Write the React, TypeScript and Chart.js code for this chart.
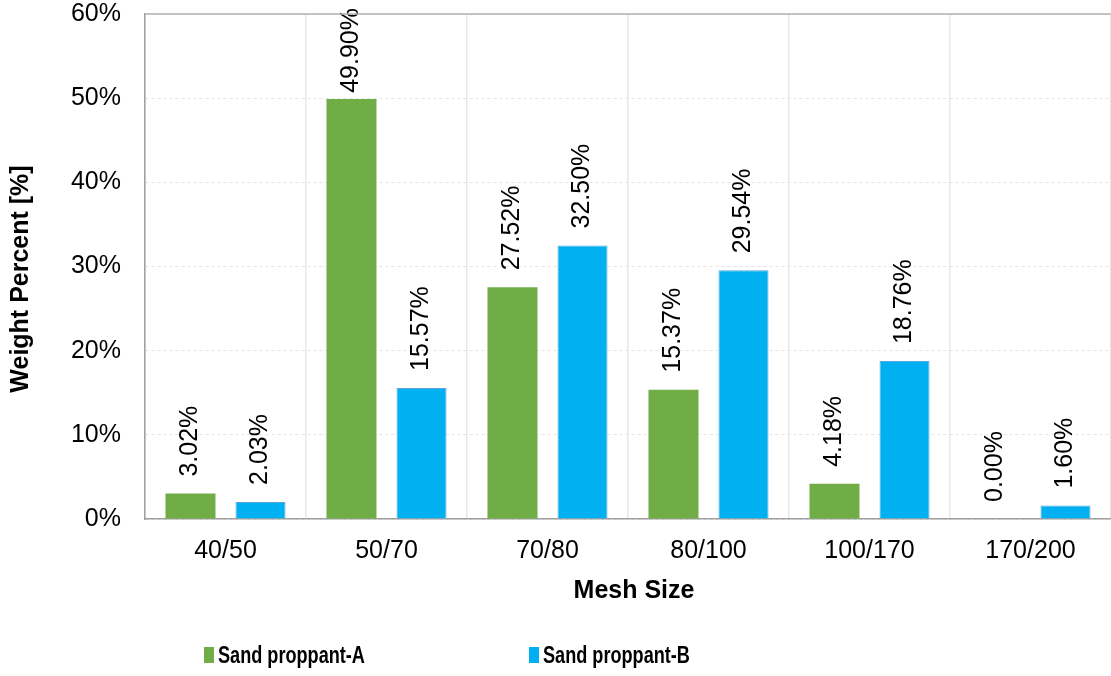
import React, { useEffect, useRef } from "react";
import { Chart, registerables } from "chart.js";

Chart.register(...registerables);

const meshSizes = ["40/50", "50/70", "70/80", "80/100", "100/170", "170/200"];
const proppantA = [3.02, 49.9, 27.52, 15.37, 4.18, 0.0];
const proppantB = [2.03, 15.57, 32.5, 29.54, 18.76, 1.6];
const seriesNames = ["Sand proppant-A", "Sand proppant-B"];
const seriesColors = ["#70AD47", "#00B0F0"];
const yTickStep = 10;
const yMax = 60;

const FONT = "'Liberation Sans', Arial, Helvetica, sans-serif";

// Value labels, axis titles, frame top line and the legend row
const decorations = {
  id: "decorations",
  afterDatasetsDraw(chart: any) {
    const { ctx, chartArea } = chart;
    ctx.save();
    ctx.font = `25px ${FONT}`;
    ctx.fillStyle = "#000";
    ctx.textAlign = "left";
    ctx.textBaseline = "middle";
    chart.data.datasets.forEach((ds: any, di: number) => {
      const meta = chart.getDatasetMeta(di);
      meta.data.forEach((bar: any, i: number) => {
        const text = ds.data[i].toFixed(2) + "%";
        const w = ctx.measureText(text).width;
        const start = Math.max(bar.y - 17, chartArea.top - 6 + w);
        ctx.save();
        ctx.translate(bar.x, start);
        ctx.rotate(-Math.PI / 2);
        ctx.fillText(text, 0, 0);
        ctx.restore();
      });
    });
    ctx.restore();
  },
  afterDraw(chart: any) {
    const { ctx, chartArea } = chart;
    ctx.save();
    // top frame line
    ctx.strokeStyle = "#b0b0b0";
    ctx.lineWidth = 1.5;
    ctx.beginPath();
    ctx.moveTo(chartArea.left, chartArea.top);
    ctx.lineTo(chartArea.right, chartArea.top);
    ctx.stroke();

    // axis titles
    ctx.fillStyle = "#000";
    ctx.font = `bold 25px ${FONT}`;
    ctx.textAlign = "center";
    ctx.textBaseline = "middle";
    ctx.fillText("Mesh Size", 634, 591);
    ctx.save();
    ctx.translate(21, 279);
    ctx.rotate(-Math.PI / 2);
    ctx.fillText("Weight Percent [%]", 0, 0);
    ctx.restore();

    // legend (condensed bold text)
    const legendX = [204, 529];
    ctx.font = `bold 24px ${FONT}`;
    ctx.textAlign = "left";
    seriesNames.forEach((name, i) => {
      ctx.fillStyle = seriesColors[i];
      ctx.fillRect(legendX[i], 647, 10, 16);
      ctx.fillStyle = "#000";
      ctx.save();
      ctx.translate(legendX[i] + 14, 656);
      ctx.scale(0.755, 1);
      ctx.fillText(name, 0, 0);
      ctx.restore();
    });
    ctx.restore();
  },
};

export default function App() {
  const canvasRef = useRef<HTMLCanvasElement | null>(null);

  useEffect(() => {
    const canvas = canvasRef.current;
    if (!canvas) return;
    const chart = new Chart(canvas, {
      type: "bar",
      data: {
        labels: meshSizes,
        datasets: [
          {
            label: seriesNames[0],
            data: proppantA,
            backgroundColor: seriesColors[0],
            borderColor: "#8cc06a",
            borderWidth: 0,
            categoryPercentage: 0.87,
            barPercentage: 0.714,
          },
          {
            label: seriesNames[1],
            data: proppantB,
            backgroundColor: seriesColors[1],
            borderColor: "#5aa7e0",
            borderWidth: 1,
            categoryPercentage: 0.87,
            barPercentage: 0.714,
          },
        ],
      },
      options: {
        responsive: false,
        animation: false,
        devicePixelRatio: 1,
        layout: { padding: { left: 0, top: 14, right: 0, bottom: 67 } },
        plugins: {
          legend: { display: false },
          tooltip: { enabled: false },
          title: { display: false },
        },
        scales: {
          x: {
            grid: { color: "#e8e8e8", lineWidth: 1.5, drawTicks: false, offset: true },
            border: { color: "#a0a0a0", width: 1.5 },
            ticks: { color: "#000", font: { family: FONT, size: 25 }, padding: 17 },
            afterFit: (s: any) => {
              s.height = 90;
              s.paddingLeft = 0;
              s.paddingRight = 0;
            },
          },
          y: {
            min: 0,
            max: yMax,
            grid: { color: "#e4e4e4", lineWidth: 1, drawTicks: false },
            border: { color: "#a0a0a0", width: 1.5, dash: [3, 3] },
            ticks: {
              stepSize: yTickStep,
              color: "#000",
              font: { family: FONT, size: 25 },
              padding: 24,
              callback: (v: any) => v + "%",
            },
            afterFit: (s: any) => {
              s.width = 145;
              s.paddingTop = 0;
              s.paddingBottom = 0;
            },
          },
        },
      },
      plugins: [decorations],
    });
    return () => chart.destroy();
  }, []);

  return (
    <div style={{ position: "fixed", left: 0, top: 0, width: 1111, height: 676, background: "#fff" }}>
      <canvas ref={canvasRef} width={1111} height={676} />
    </div>
  );
}
